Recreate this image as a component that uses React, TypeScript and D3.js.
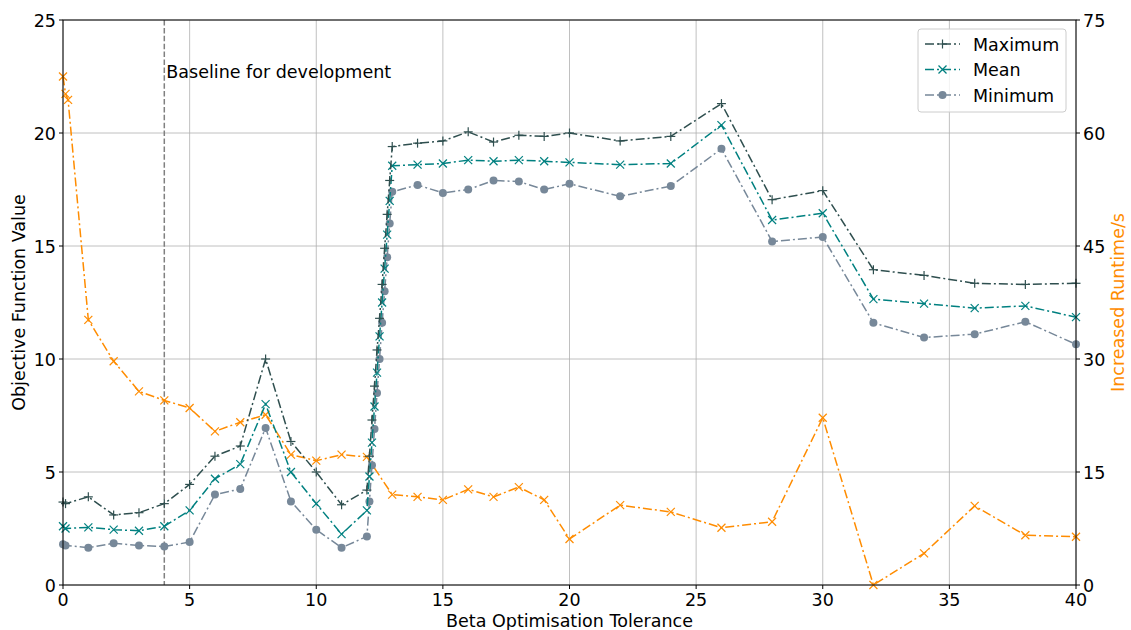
import React from "react";
import * as d3 from "d3";

const xTol = [0, 0.1, 1, 2, 3, 4, 5, 6, 7, 8, 9, 10, 11, 12, 12.1, 12.2, 12.3, 12.4, 12.5, 12.6, 12.7, 12.8, 12.9, 13, 14, 15, 16, 17, 18, 19, 20, 22, 24, 26, 28, 30, 32, 34, 36, 38, 40];
const maxVals = [3.67, 3.6, 3.9, 3.1, 3.2, 3.6, 4.45, 5.7, 6.15, 10.0, 6.35, 5.0, 3.55, 4.2, 5.7, 7.3, 8.8, 10.4, 11.8, 13.3, 14.9, 16.4, 17.9, 19.4, 19.55, 19.65, 20.05, 19.6, 19.9, 19.85, 20.0, 19.65, 19.85, 21.3, 17.05, 17.45, 13.95, 13.7, 13.35, 13.3, 13.35];
const meanVals = [2.6, 2.5, 2.55, 2.45, 2.4, 2.6, 3.3, 4.7, 5.35, 8.0, 5.0, 3.6, 2.25, 3.3, 4.8, 6.3, 7.9, 9.4, 11.0, 12.5, 14.0, 15.5, 17.0, 18.55, 18.6, 18.65, 18.8, 18.75, 18.8, 18.75, 18.7, 18.6, 18.65, 20.35, 16.15, 16.45, 12.65, 12.45, 12.25, 12.35, 11.85];
const minVals = [1.8, 1.75, 1.65, 1.85, 1.75, 1.7, 1.9, 4.0, 4.25, 6.95, 3.7, 2.45, 1.65, 2.15, 3.7, 5.3, 6.9, 8.5, 10.0, 11.6, 13.0, 14.5, 16.0, 17.4, 17.7, 17.35, 17.5, 17.9, 17.85, 17.5, 17.75, 17.2, 17.65, 19.3, 15.2, 15.4, 11.6, 10.95, 11.1, 11.65, 10.65];

const xRun = [0, 0.1, 0.2, 1, 2, 3, 4, 5, 6, 7, 8, 9, 10, 11, 12, 13, 14, 15, 16, 17, 18, 19, 20, 22, 24, 26, 28, 30, 32, 34, 36, 38, 40];
const runVals = [67.5, 65.2, 64.4, 35.2, 29.7, 25.7, 24.5, 23.5, 20.4, 21.6, 22.6, 17.3, 16.5, 17.3, 17.0, 12.0, 11.7, 11.3, 12.7, 11.7, 13.0, 11.3, 6.1, 10.6, 9.7, 7.6, 8.4, 22.2, 0.0, 4.2, 10.5, 6.6, 6.4];

const xTicks = [0, 5, 10, 15, 20, 25, 30, 35, 40];
const yLeftTicks = [0, 5, 10, 15, 20, 25];
const yRightTicks = [0, 15, 30, 45, 60, 75];

const W = 1131, H = 630;
const L = 63, R = 1076, T = 20, B = 585;
const FONT = "DejaVu Sans, sans-serif";
const FS = 17.5;

const seriesDefs = [
  { name: "Maximum", vals: maxVals, color: "#2F4F4F", marker: "plus" },
  { name: "Mean", vals: meanVals, color: "#008080", marker: "x" },
  { name: "Minimum", vals: minVals, color: "#778899", marker: "circle" },
];

function Marker({ type, x, y, color }: { type: string; x: number; y: number; color: string }) {
  if (type === "circle") return <circle cx={x} cy={y} r={4} fill={color} />;
  if (type === "plus")
    return (
      <g stroke={color} strokeWidth={1.2}>
        <line x1={x - 4.5} y1={y} x2={x + 4.5} y2={y} />
        <line x1={x} y1={y - 4.5} x2={x} y2={y + 4.5} />
      </g>
    );
  return (
    <g stroke={color} strokeWidth={1.2}>
      <line x1={x - 4} y1={y - 4} x2={x + 4} y2={y + 4} />
      <line x1={x - 4} y1={y + 4} x2={x + 4} y2={y - 4} />
    </g>
  );
}

export default function App() {
  const x = d3.scaleLinear().domain([0, 40]).range([L, R]);
  const yL = d3.scaleLinear().domain([0, 25]).range([B, T]);
  const yR = d3.scaleLinear().domain([0, 75]).range([B, T]);
  const dash = "9,3,2,3";

  const lineL = (vals: number[]) =>
    d3.line<number>().x((_, i) => x(xTol[i])).y((d) => yL(d))(vals) || "";
  const lineR = d3.line<number>().x((_, i) => x(xRun[i])).y((d) => yR(d))(runVals) || "";

  return (
    <svg width={W} height={H} style={{ position: "absolute", left: 0, top: 0, background: "#fff" }} fontFamily={FONT}>
      <defs>
        <clipPath id="plot">
          <rect x={L - 6} y={T - 6} width={R - L + 12} height={B - T + 12} />
        </clipPath>
      </defs>
      <g stroke="#b0b0b0" strokeWidth={0.8}>
        {xTicks.map((t) => (
          <line key={"gx" + t} x1={x(t)} x2={x(t)} y1={T} y2={B} />
        ))}
        {yLeftTicks.map((t) => (
          <line key={"gy" + t} x1={L} x2={R} y1={yL(t)} y2={yL(t)} />
        ))}
      </g>
      <line x1={x(4)} x2={x(4)} y1={T} y2={B} stroke="#808080" strokeWidth={1.5} strokeDasharray="5.5,2.4" />
      <text x={x(4) + 2} y={78} fontSize={FS} fill="#000">Baseline for development</text>

      <g clipPath="url(#plot)">
        <path d={lineR} fill="none" stroke="#FF8C00" strokeWidth={1.5} strokeDasharray={dash} />
        {runVals.map((v, i) => (
          <Marker key={"r" + i} type="x" x={x(xRun[i])} y={yR(v)} color="#FF8C00" />
        ))}
        {seriesDefs.slice().reverse().map((s) => (
          <g key={s.name}>
            <path d={lineL(s.vals)} fill="none" stroke={s.color} strokeWidth={1.5} strokeDasharray={dash} />
            {s.vals.map((v, i) => (
              <Marker key={i} type={s.marker} x={x(xTol[i])} y={yL(v)} color={s.color} />
            ))}
          </g>
        ))}
      </g>

      <rect x={L} y={T} width={R - L} height={B - T} fill="none" stroke="#000" strokeWidth={1} />

      {xTicks.map((t) => (
        <g key={"xt" + t}>
          <line x1={x(t)} x2={x(t)} y1={B} y2={B + 4} stroke="#000" />
          <text x={x(t)} y={B + 21} fontSize={FS} textAnchor="middle">{t}</text>
        </g>
      ))}
      {yLeftTicks.map((t) => (
        <g key={"yl" + t}>
          <line x1={L - 4} x2={L} y1={yL(t)} y2={yL(t)} stroke="#000" />
          <text x={L - 7} y={yL(t) + 6.5} fontSize={FS} textAnchor="end">{t}</text>
        </g>
      ))}
      {yRightTicks.map((t) => (
        <g key={"yr" + t}>
          <line x1={R} x2={R + 4} y1={yR(t)} y2={yR(t)} stroke="#000" />
          <text x={R + 7} y={yR(t) + 6.5} fontSize={FS} textAnchor="start">{t}</text>
        </g>
      ))}

      <text x={(L + R) / 2} y={627} fontSize={FS} textAnchor="middle">Beta Optimisation Tolerance</text>
      <text transform={`translate(25,${(T + B) / 2}) rotate(-90)`} fontSize={FS} textAnchor="middle">Objective Function Value</text>
      <text transform={`translate(1124,${(T + B) / 2}) rotate(-90)`} fontSize={FS} textAnchor="middle" fill="#FF8C00">Increased Runtime/s</text>

      <g>
        <rect x={918} y={29} width={148} height={83} rx={3} fill="#fff" fillOpacity={0.8} stroke="#cccccc" />
        {seriesDefs.map((s, i) => {
          const ly = 44 + i * 25.5;
          return (
            <g key={"lg" + s.name}>
              <line x1={925} x2={960} y1={ly} y2={ly} stroke={s.color} strokeWidth={1.5} strokeDasharray={dash} />
              <Marker type={s.marker} x={942.5} y={ly} color={s.color} />
              <text x={973} y={ly + 6.5} fontSize={FS}>{s.name}</text>
            </g>
          );
        })}
      </g>
    </svg>
  );
}
